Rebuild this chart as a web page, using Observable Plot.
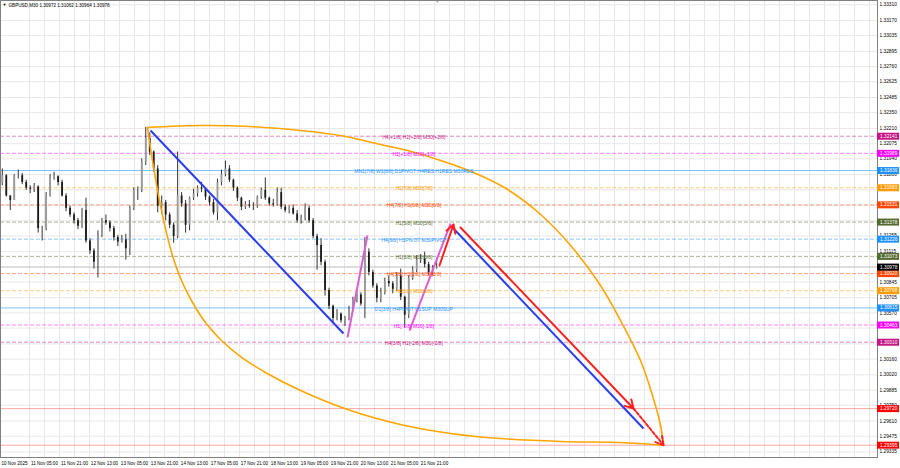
<!DOCTYPE html>
<html><head><meta charset="utf-8">
<script src="https://cdn.jsdelivr.net/npm/d3@7"></script>
<script src="https://cdn.jsdelivr.net/npm/@observablehq/plot@0.6"></script>
<style>
html,body{margin:0;padding:0;background:#fff;}
#chart svg{display:block;}
</style></head><body><div id="chart"></div>
<script>
// ---------- data ----------
const title = "GBPUSD,M30 1.30972 1.31062 1.30964 1.30978";
const timeLabels = ["10 Nov 2025","11 Nov 05:00","11 Nov 21:00","12 Nov 13:00","13 Nov 05:00","13 Nov 21:00","14 Nov 13:00","17 Nov 05:00","17 Nov 21:00","18 Nov 13:00","19 Nov 05:00","19 Nov 21:00","20 Nov 13:00","21 Nov 05:00","21 Nov 21:00"];
const timeLabelBars = [0,32,64,96,128,160,192,224,256,288,320,352,384,416,448]; // M30 bar index, 0 = 10 Nov 13:00
const priceTicks = [1.33310,1.33170,1.33035,1.32895,1.32760,1.32625,1.32485,1.32350,1.32210,1.32075,1.31940,1.31800,1.31665,1.31525,1.31390,1.31255,1.31115,1.30980,1.30845,1.30705,1.30570,1.30435,1.30295,1.30160,1.30020,1.29885,1.29750,1.29610,1.29475,1.29335];
// tick labels that are not hidden behind the coloured price boxes
const priceTickLabels = [1.33310,1.33170,1.33035,1.32895,1.32760,1.32625,1.32485,1.32350,1.32210,1.32075,1.31940,1.31800,1.31255,1.31115,1.30845,1.30705,1.30570,1.30160,1.30020,1.29885,1.29750,1.29610,1.29475,1.29335];

// candles (each ~4 M30 bars)
const candleFirstBar = -13;
const candleBarStep = 4.25;
const firstOpen = 1.3172;
const closes = [1.3179,1.3161,1.3157,1.3179,1.3179,1.3173,1.3168,1.3167,1.3169,1.3132,
1.3132,1.3161,1.3177,1.3178,1.3173,1.3161,1.3150,1.3144,1.3139,1.3134,
1.3148,1.3121,1.3112,1.3102,1.3126,1.3139,1.3137,1.3132,1.3124,1.3120,
1.3122,1.3114,1.3150,1.3166,1.3166,1.3191,1.3212,1.3200,1.3185,1.3152,
1.3155,1.3144,1.3135,1.3125,1.3161,1.3154,1.3135,1.3159,1.3163,1.3168,
1.3167,1.3160,1.3155,1.3146,1.3173,1.3180,1.3185,1.3175,1.3168,1.3159,
1.3151,1.3153,1.3152,1.3152,1.3160,1.3166,1.3159,1.3154,1.3153,1.3164,
1.3151,1.3148,1.3150,1.3145,1.3139,1.3141,1.3150,1.3139,1.3125,1.3117,
1.3102,1.3077,1.3063,1.3052,1.3056,1.3050,1.3052,1.3060,1.3068,1.3073,
1.3065,1.3111,1.3093,1.3081,1.3070,1.3075,1.3085,1.3083,1.3078,1.3090,
1.3071,1.3055,1.3088,1.3095,1.3104,1.3105,1.3100,1.3093,1.3097,1.30978];
const highs = [1.3185,1.3180,1.3161,1.3180,1.3184,1.3181,1.3175,1.3170,1.3172,1.3170,
1.3134,1.3164,1.3180,1.3182,1.3179,1.3175,1.3163,1.3152,1.3146,1.3141,
1.3150,1.3159,1.3123,1.3114,1.3130,1.3141,1.3144,1.3139,1.3134,1.3126,
1.3126,1.3127,1.3152,1.3168,1.3169,1.3194,1.3222,1.3217,1.3201,1.3188,
1.3161,1.3157,1.3146,1.3137,1.3200,1.3164,1.3157,1.3160,1.3167,1.3170,
1.3173,1.3168,1.3161,1.3158,1.3176,1.3184,1.3192,1.3188,1.3176,1.3169,
1.3160,1.3156,1.3157,1.3155,1.3161,1.3168,1.3177,1.3160,1.3158,1.3168,
1.3168,1.3153,1.3152,1.3153,1.3148,1.3144,1.3154,1.3152,1.3141,1.3127,
1.3123,1.3104,1.3079,1.3064,1.3060,1.3057,1.3054,1.3063,1.3071,1.3076,
1.3075,1.3124,1.3114,1.3095,1.3083,1.3079,1.3088,1.3090,1.3085,1.3093,
1.3096,1.3072,1.3090,1.3098,1.3108,1.3109,1.3111,1.3102,1.3099,1.3106];
const lows = [1.3170,1.3160,1.3148,1.3157,1.3176,1.3171,1.3166,1.3163,1.3164,1.3128,
1.3121,1.3130,1.3160,1.3175,1.3170,1.3160,1.3147,1.3142,1.3136,1.3131,
1.3132,1.3119,1.3109,1.3096,1.3088,1.3124,1.3135,1.3129,1.3121,1.3116,
1.3119,1.3104,1.3108,1.3148,1.3157,1.3164,1.3188,1.3197,1.3182,1.3146,
1.3145,1.3139,1.3132,1.3119,1.3123,1.3151,1.3128,1.3130,1.3157,1.3160,
1.3164,1.3157,1.3152,1.3144,1.3139,1.3170,1.3178,1.3173,1.3165,1.3156,
1.3148,1.3149,1.3150,1.3148,1.3150,1.3158,1.3157,1.3152,1.3151,1.3152,
1.3149,1.3146,1.3145,1.3144,1.3137,1.3136,1.3139,1.3137,1.3123,1.3095,
1.3099,1.3072,1.3060,1.3048,1.3050,1.3048,1.3045,1.3050,1.3058,1.3066,
1.3063,1.3052,1.3090,1.3079,1.3066,1.3066,1.3073,1.3080,1.3074,1.3076,
1.3068,1.3044,1.3052,1.3086,1.3093,1.3101,1.3097,1.3090,1.3090,1.3096];

// Murrey levels
const levelPrices = [1.32141,1.31989,1.31836,1.31683,1.31531,1.31378,1.31226,1.31073,1.30920,1.30768,1.30615,1.30463,1.30310];
const levelTexts = ["H4[+1/8] H1[+2/8] M30[+2/8]","H1[+1/8] M30[+1/8]","MN1[7/8] W1[8/8] D1PIVOT H4RES H1RES M30RES","H1[7/8] M30[7/8]","H4[7/8] H1[6/8] M30[6/8]","H1[5/8] M30[5/8]","H4[6/8] H1PIVOT M30PIVOT","H1[3/8] M30[3/8]","H4[5/8] H1[2/8] M30[2/8]","H1[1/8] M30[1/8]","D1[3/8] H4PIVOT H1SUP M30SUP","H1[-1/8] M30[-1/8]","H4[3/8] H1[-2/8] M30[-2/8]"];
const levelColors = ["#C71585","#FF00FF","#1E90FF","#FF9A00","#FF4500","#556B2F","#1E90FF","#556B2F","#FF4500","#FF9A00","#1E90FF","#FF00FF","#C71585"];
const levelSolid = [false,false,true,false,false,false,false,false,false,false,true,false,false];
const levelTextBar = 426;
const targetPrices = [1.29720,1.29395];
const lastPrice = 1.30978;
const shiftMarkerBar = 451;

// drawn objects (bar index, price)
const blueSegments = [
  {b1:145.1,p1:1.32192,b2:350.9,p2:1.30388},
  {b1:467.2,p1:1.31330,b2:670.9,p2:1.29543}
];
const pinkSegments = [
  {b1:355.2,p1:1.30352,b2:376.5,p2:1.31259},
  {b1:421.3,p1:1.30414,b2:465.1,p2:1.31365}
];
const redArrows = [
  {b1:453.3,p1:1.30992,b2:468.3,p2:1.31356},
  {b1:475.7,p1:1.31330,b2:660.3,p2:1.29721}
];
const redDashed = [{b1:660.3,p1:1.29721,b2:692.3,p2:1.29395}];
const arcTopBars =   [141.9,198.4,251.7,305.1,347.7,390.4,419.2,454.4,489.6,524.3,560.0,593.1,625.1,646.4,667.7,680.5,689.1,692.3];
const arcTopPrices = [1.32219,1.32236,1.32227,1.32192,1.32147,1.32067,1.32014,1.31925,1.31819,1.31676,1.31454,1.31170,1.30814,1.30503,1.30148,1.29837,1.29570,1.29395];
const arcBotBars =   [141.9,145.1,149.3,154.6,161.0,168.5,178.1,189.9,203.7,219.7,241.1,267.7,305.1,358.4,411.7,465.1,518.4,582.4,646.4,692.3];
const arcBotPrices = [1.32219,1.32032,1.31818,1.31570,1.31321,1.31081,1.30859,1.30663,1.30485,1.30334,1.30183,1.30041,1.29881,1.29703,1.29579,1.29499,1.29454,1.29428,1.29419,1.29395];

// ---------- build ----------
const xDomain = [-14.93, 920.5];
const yDomain = [1.292855, 1.333473];
const xMax = xDomain[1];
const boxBars = 23.5;
const font = "Liberation Sans, Arial, sans-serif";

const candles = closes.map((c, i) => ({
  bar: candleFirstBar + i * candleBarStep,
  open: i ? closes[i - 1] : firstOpen,
  close: c, high: highs[i], low: lows[i]
}));
const levels = levelPrices.map((p, i) => ({price: p, text: levelTexts[i], color: levelColors[i], solid: levelSolid[i]}));
const boxes = [
  ...levels.map(d => ({price: d.price, color: d.color})),
  {price: lastPrice, color: "#000000"},
  ...targetPrices.map(p => ({price: p, color: "#FF0000"}))
];
const gridBars = d3.range(16, xMax, 16);
const arcTop = arcTopBars.map((b, i) => ({b, p: arcTopPrices[i]}));
const arcBot = arcBotBars.map((b, i) => ({b, p: arcBotPrices[i]}));

const chart = Plot.plot({
  width: 900, height: 468,
  marginLeft: 0, marginRight: 23, marginTop: 0, marginBottom: 11,
  style: {fontFamily: font, background: "#fff", overflow: "visible"},
  x: {domain: xDomain, axis: null},
  y: {domain: yDomain, axis: null},
  marks: [
    Plot.ruleY(priceTicks, {stroke: "#e8e8e8"}),
    Plot.ruleX(gridBars, {stroke: "#e8e8e8"}),
    Plot.ruleY(levels.filter(d => !d.solid), {y: "price", stroke: "color", strokeOpacity: 0.5, strokeDasharray: "4,2"}),
    Plot.ruleY(levels.filter(d => d.solid), {y: "price", stroke: "color", strokeOpacity: 0.55}),
    Plot.ruleY(targetPrices, {stroke: "#FF0000", strokeOpacity: 0.35}),
    Plot.ruleY([lastPrice], {stroke: "#c8c8c8"}),
    Plot.ruleX(candles, {x: "bar", y1: "low", y2: "high", stroke: "#333", strokeWidth: 1}),
    Plot.ruleX(candles, {x: "bar", y1: "open", y2: "close", stroke: d => d.close >= d.open ? "#9a9a9a" : "#1a1a1a", strokeWidth: 1.8}),
    Plot.line(arcTop, {x: "b", y: "p", stroke: "#FFA500", strokeWidth: 1.6, curve: "catmull-rom"}),
    Plot.line(arcBot, {x: "b", y: "p", stroke: "#FFA500", strokeWidth: 1.6, curve: "catmull-rom"}),
    Plot.link(blueSegments, {x1: "b1", y1: "p1", x2: "b2", y2: "p2", stroke: "#2a3ef0", strokeWidth: 2}),
    Plot.link(pinkSegments, {x1: "b1", y1: "p1", x2: "b2", y2: "p2", stroke: "#DA5FD0", strokeWidth: 2}),
    Plot.arrow(redArrows, {x1: "b1", y1: "p1", x2: "b2", y2: "p2", stroke: "#FF2020", strokeWidth: 2, headLength: 7, bend: 0}),
    Plot.arrow(redDashed, {x1: "b1", y1: "p1", x2: "b2", y2: "p2", stroke: "#FF2020", strokeWidth: 2, headLength: 7, bend: 0, strokeDasharray: "3,2"}),
    Plot.text(levels, {x: () => levelTextBar, y: "price", text: "text", fill: "color", fontSize: 5, dy: 1}),
    Plot.frame({stroke: "#808080"}),
    Plot.text(priceTickLabels, {x: () => xMax, y: d => d, text: d => d.toFixed(5), dx: 2, textAnchor: "start", fontSize: 4.8, fill: "#000"}),
    Plot.ruleY(boxes, {y: "price", x1: () => xMax, x2: () => xMax + boxBars, stroke: "color", strokeWidth: 7}),
    Plot.text(boxes, {x: () => xMax, y: "price", text: d => d.price.toFixed(5), dx: 2.5, textAnchor: "start", fontSize: 4.8, fill: "#fff"}),
    Plot.text(timeLabels, {x: (d, i) => timeLabelBars[i], y: () => yDomain[0], text: d => d, dy: 6, fontSize: 4.6, fill: "#000"}),
    Plot.text([title], {frameAnchor: "top-left", dx: 8, dy: 3, fontSize: 4.6, fill: "#000"}),
    Plot.text(["\u25BC"], {frameAnchor: "top-left", dx: 2, dy: 3, fontSize: 4, fill: "#000"}),
    Plot.text(["\u25BC"], {x: () => shiftMarkerBar, frameAnchor: "top", dy: 0, fontSize: 4, fill: "#999"})
  ]
});
document.getElementById("chart").appendChild(chart);
</script></body></html>
